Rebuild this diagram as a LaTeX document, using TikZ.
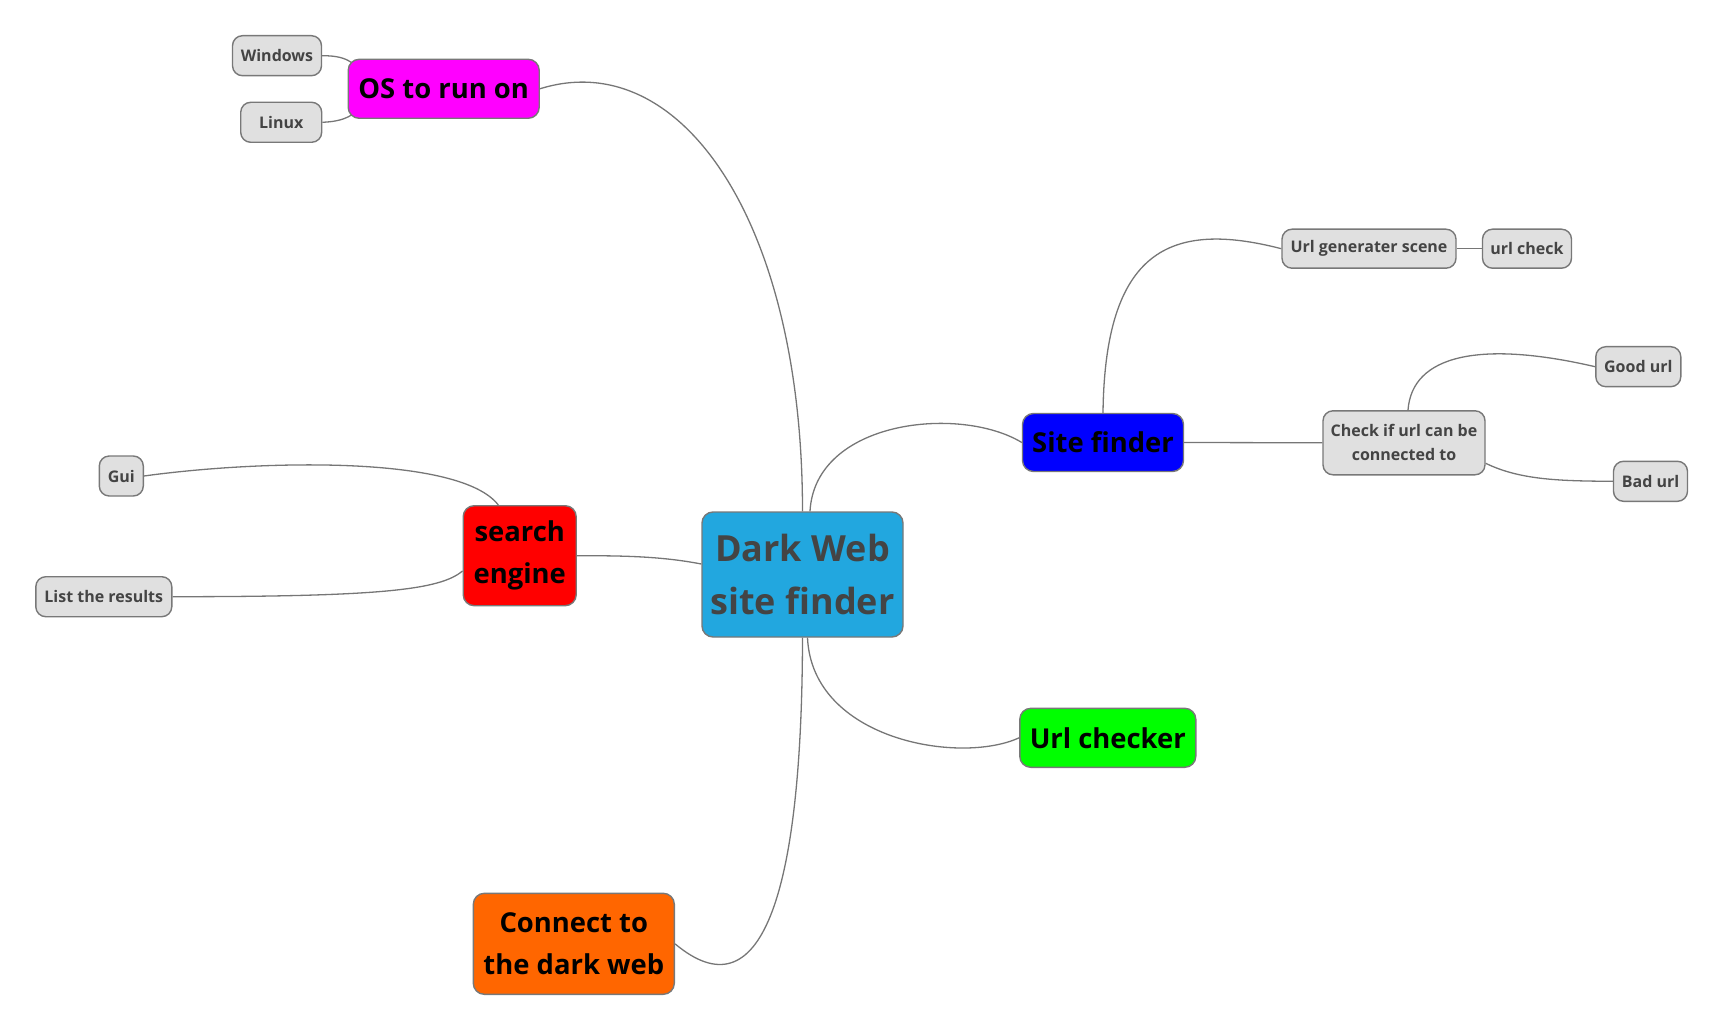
\documentclass[tikz,border=0pt]{standalone}
\usepackage{fontspec}
\setmainfont{Open Sans}
\usetikzlibrary{calc}
\definecolor{bordergray}{RGB}{120,120,120}
\definecolor{linegray}{RGB}{118,118,118}
\definecolor{leafgray}{RGB}{224,224,224}
\definecolor{darktext}{RGB}{68,68,68}
\definecolor{rootblue}{RGB}{34,167,223}
\definecolor{osmag}{RGB}{255,0,255}
\definecolor{sered}{RGB}{255,0,0}
\definecolor{siteblue}{RGB}{0,0,255}
\definecolor{chkgreen}{RGB}{0,255,0}
\definecolor{connorange}{RGB}{255,102,0}
\tikzset{
  mmbox/.style={draw=bordergray, line width=1.4pt, rounded corners=11pt, inner sep=0pt, align=center},
  rootbox/.style={mmbox, fill=rootblue, text=darktext, font=\bfseries\fontsize{36}{53}\selectfont},
  lvlbox/.style={mmbox, text=black, font=\bfseries\fontsize{27.4}{42}\selectfont},
  leafbox/.style={mmbox, rounded corners=10pt, fill=leafgray, text=darktext, font=\bfseries\fontsize{16}{24}\selectfont},
  conn/.style={draw=linegray, line width=1.3pt}
}
\begin{document}
\begin{tikzpicture}[x=1pt,y=-1pt]
\useasboundingbox (0,0) rectangle (1725,1032);
% nodes
\node[rootbox, minimum width=201pt, minimum height=125pt] (root) at (802.5,574.5) {Dark Web\\site finder};
\node[lvlbox, fill=osmag, minimum width=191pt, minimum height=59pt] (os) at (443.7,88.8) {OS to run on};
\node[leafbox, minimum width=89pt, minimum height=40pt] (win) at (277,55.7) {Windows};
\node[leafbox, minimum width=81pt, minimum height=40pt] (lin) at (281.2,122.3) {Linux};
\node[lvlbox, fill=sered, minimum width=113pt, minimum height=100pt] (se) at (519.7,555.7) {search\\engine};
\node[leafbox, minimum width=44pt, minimum height=40pt] (gui) at (121.3,476) {Gui};
\node[leafbox, minimum width=136pt, minimum height=40pt] (list) at (103.8,596.7) {List the results};
\node[lvlbox, fill=siteblue, minimum width=161pt, minimum height=58pt] (site) at (1103,442.5) {Site finder};
\node[leafbox, minimum width=174pt, minimum height=39pt] (ugen) at (1369,248.7) {Url generater scene};
\node[leafbox, minimum width=89pt, minimum height=39pt] (ucheck) at (1527,248.7) {url check};
\node[leafbox, minimum width=162pt, minimum height=64pt] (chk) at (1404,442.8) {Check if url can be\\connected to};
\node[leafbox, minimum width=85pt, minimum height=40pt] (good) at (1638.3,366.7) {Good url};
\node[leafbox, minimum width=74pt, minimum height=40pt] (bad) at (1650.5,481.3) {Bad url};
\node[lvlbox, fill=chkgreen, minimum width=176pt, minimum height=59pt] (uchk) at (1107.8,737.8) {Url checker};
\node[lvlbox, fill=connorange, minimum width=201pt, minimum height=101pt] (cdw) at (573.8,943.8) {Connect to\\the dark web};
% connectors
\draw[conn] (os.east) .. controls (680,45) and (802.5,220) .. (root.north);
\draw[conn] ($(root.north)+(7.5,0)$) .. controls (815,420) and (960,405) .. (site.west);
\draw[conn] ($(root.west)+(0,-10.5)$) .. controls (660,556) and (620,555.7) .. (se.east);
\draw[conn] ($(root.south)+(5,0)$) .. controls (812,740) and (960,765) .. (uchk.west);
\draw[conn] (root.south) .. controls (802,900) and (760,1015) .. (cdw.east);
\draw[conn] (win.east) .. controls (337,55.7) and (345,58) .. ($(os.north west)+(4,4)$);
\draw[conn] (lin.east) .. controls (337,121.7) and (345,119) .. ($(os.south west)+(4,-4)$);
\draw[conn] (gui.east) .. controls (260,460) and (460,455) .. ($(se.north)+(-21.4,0)$);
\draw[conn] (list.east) .. controls (380,596.7) and (440,590) .. ($(se.west)+(0,15.3)$);
\draw[conn] (site.north) .. controls (1105,250) and (1170,220) .. (ugen.west);
\draw[conn] (site.east) -- (chk.west);
\draw[conn] (ugen.east) -- (ucheck.west);
\draw[conn] ($(chk.north)+(4,0)$) .. controls (1412,355) and (1480,340) .. (good.west);
\draw[conn] ($(chk.east)+(0,20.5)$) .. controls (1520,480) and (1560,481) .. (bad.west);
\end{tikzpicture}
\end{document}
